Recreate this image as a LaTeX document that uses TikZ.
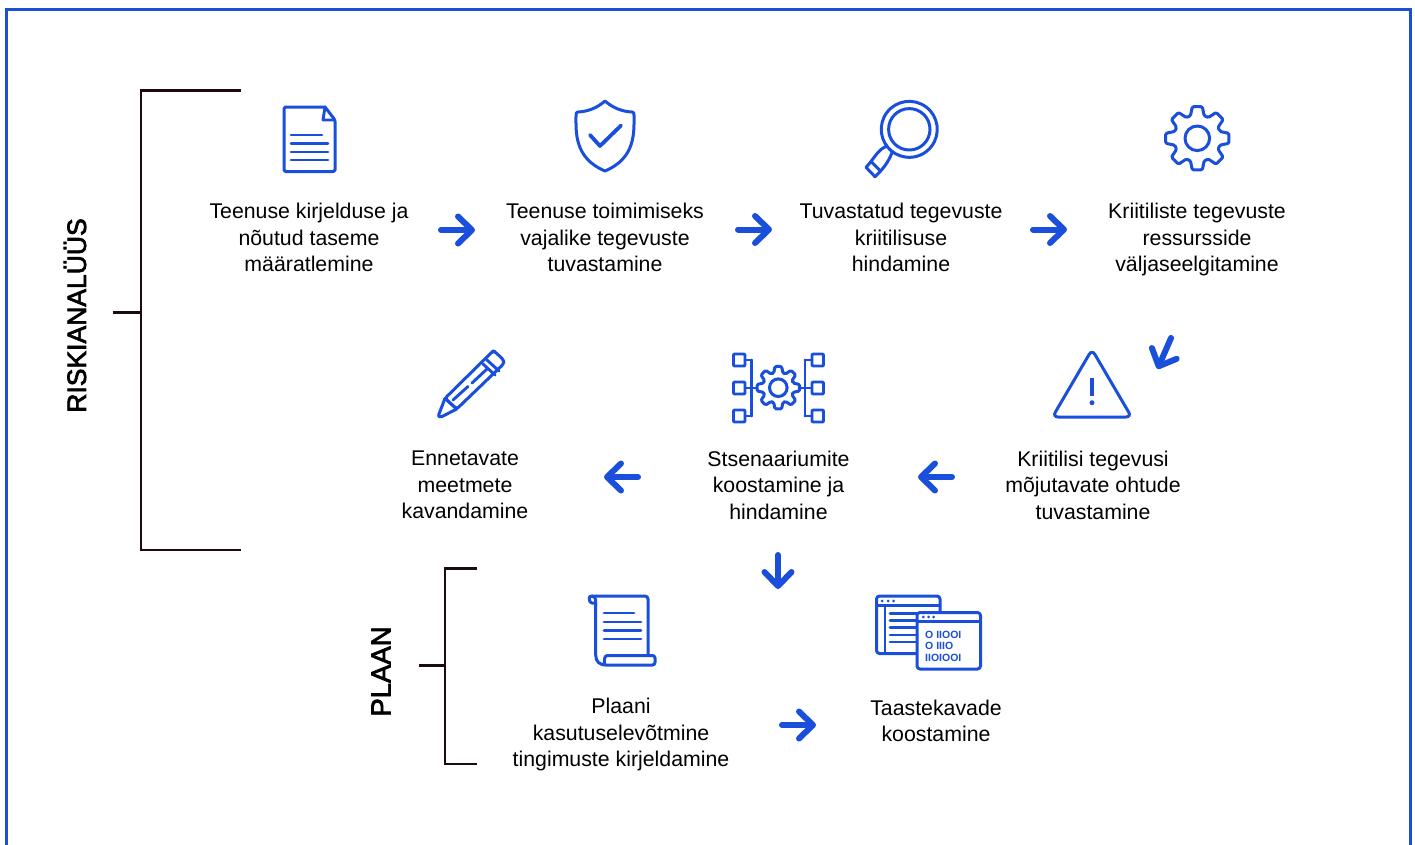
\documentclass[tikz,border=0pt]{standalone}
\usepackage{fontspec}
\setmainfont{Liberation Sans}
\newfontfamily\medfont[FakeBold=2.6]{Liberation Sans}
\usetikzlibrary{arrows.meta}
\definecolor{bluemain}{HTML}{1A4FDB}
\definecolor{brackdark}{HTML}{1C0A10}
\tikzset{
  lab/.style={align=center,inner sep=0pt,text=black,yshift=-4pt,font=\fontsize{21.3}{26.4}\selectfont,
    execute at begin node=\strut,execute at end node=\strut},
  sidelab/.style={rotate=90,inner sep=0pt,text=black},
  conn/.style={draw=bluemain,line width=6pt,line cap=round,-{Straight Barb[length=14pt,width=27pt,round]}},
  brack/.style={draw=brackdark,line width=2.6pt},
  icon/.style={draw=bluemain,line width=3pt,line cap=round,line join=round},
  thin/.style={draw=bluemain,line width=2.9pt,line cap=round,line join=round},
}
\newcommand{\geargl}[4]{% cx cy root outer
  \begin{scope}[shift={(#1,#2)}]
  \draw[icon,rounded corners=1.3pt] (-17:#3)
    \foreach \a in {0,45,...,315}{ -- ({\a-17}:#3) -- ({\a-9}:#4) -- ({\a+9}:#4) -- ({\a+17}:#3) } -- cycle;
  \end{scope}}
\begin{document}
\begin{tikzpicture}[x=1pt,y=-1pt]
\useasboundingbox (0,0) rectangle (1415,844);
\fill[white] (0,0) rectangle (1415,844);
% frame
\draw[draw=bluemain,line width=3pt] (6.5,860) -- (6.5,9.5) -- (1410,9.5) -- (1410,860);
% brackets
\draw[brack] (241,90.5) -- (141,90.5) -- (141,550) -- (241,550);
\draw[brack] (112.5,312.3) -- (141,312.3);
\draw[brack] (476.7,568.3) -- (445,568.3) -- (445,764) -- (476.7,764);
\draw[brack] (419.3,665.7) -- (445,665.7);
\node[sidelab,font=\fontsize{26.5}{30}\selectfont\medfont] (riski) at (75,315.5) {RISKIANALÜÜS};
\node[sidelab,font=\fontsize{27.5}{30}\selectfont\medfont] (plaan) at (381,671.5) {PLAAN};
% labels
\node[lab] (t1) at (309,237.5) {Teenuse kirjelduse ja\\nõutud taseme\\määratlemine};
\node[lab] (t2) at (605,237.5) {Teenuse toimimiseks\\vajalike tegevuste\\tuvastamine};
\node[lab] (t3) at (901,237.5) {Tuvastatud tegevuste\\kriitilisuse\\hindamine};
\node[lab] (t4) at (1197,237.5) {Kriitiliste tegevuste\\ressursside\\väljaseelgitamine};
\node[lab] (t5) at (1093,485) {Kriitilisi tegevusi\\mõjutavate ohtude\\tuvastamine};
\node[lab] (t6) at (778.5,485) {Stsenaariumite\\koostamine ja\\hindamine};
\node[lab] (t7) at (465,485) {Ennetavate\\meetmete\\kavandamine};
\node[lab] (t8) at (621,732.5) {Plaani\\kasutuselevõtmine\\tingimuste kirjeldamine};
\node[lab] (t9) at (936,721) {Taastekavade\\koostamine};
% connectors
\coordinate (a1s) at (441,230); \coordinate (a1e) at (475,230);
\coordinate (a2s) at (738,229.5); \coordinate (a2e) at (772,229.5);
\coordinate (a3s) at (1033,229.5); \coordinate (a3e) at (1067,229.5);
\coordinate (a4s) at (1171,338); \coordinate (a4e) at (1157.5,369);
\coordinate (a5s) at (952,477); \coordinate (a5e) at (918,477);
\coordinate (a6s) at (638,477); \coordinate (a6e) at (604,477);
\coordinate (a7s) at (778,555); \coordinate (a7e) at (778,589);
\coordinate (a8s) at (782,725); \coordinate (a8e) at (816,725);
\foreach \n in {1,...,8}{\draw[conn] (a\n s) -- (a\n e);}
% document icon
\draw[icon] (325,107) -- (285.5,107) [rounded corners=1.5pt] -- (284,107) -- (284,171.5) -- (335,171.5) -- (335,120) [sharp corners] -- (325,107) -- (323,107);
\draw[thin,line join=round] (325,107) -- (323,120) -- (335,120);
\foreach \yy/\xx in {135/322,143.5/328,152/328,160/328}{\draw[thin] (291,\yy) -- (\xx,\yy);}
% shield
\draw[icon] (605,101) .. controls (597,108) and (588,111.5) .. (578,112) .. controls (576.5,112.2) and (576,113) .. (576,115)
 .. controls (576,132) and (574,158) .. (605,171) .. controls (636,158) and (634,132) .. (634,115)
 .. controls (634,113) and (633.5,112.2) .. (632,112) .. controls (622,111.5) and (613,108) .. (605,101) -- cycle;
\draw[draw=bluemain,line width=3.8pt,line cap=round,line join=round] (590,135) -- (600,146) -- (621,125.5);
% magnifier
\draw[icon] (909.3,129.3) circle[radius=20.7];
\draw[icon] (892.4,151.7) arc[start angle=127,end angle=503,radius=28]
  .. controls (878,149) and (874,159) .. (866,167.3) -- (875,176.7) .. controls (883,169) and (888,163) .. (892.4,151.7);
\draw[icon] (871.5,162) -- (880.5,171);
% large gear
\geargl{1197.3}{138.3}{23.5}{32}
\draw[icon] (1197.3,138.3) circle[radius=12.3];
% triangle
\draw[icon,rounded corners=5.5pt] (1092,349.5) -- (1052.5,417) -- (1131.5,417) -- cycle;
\draw[draw=bluemain,line width=3.2pt] (1092,378) -- (1092,396);
\fill[bluemain] (1092,402.7) circle[radius=2.5];
% network with gear
\geargl{778.3}{387.7}{15.5}{21.5}
\draw[icon] (778.3,387.7) circle[radius=8.8];
\foreach \yy in {360,388,416}{
  \draw[thin,rounded corners=1pt] (733.5,\yy-6) rectangle (745,\yy+6);
  \draw[thin,rounded corners=1pt] (812,\yy-6) rectangle (823.5,\yy+6);
  \draw[thin] (745,\yy) -- (751.7,\yy);
  \draw[thin] (805,\yy) -- (812,\yy);
}
\draw[thin] (751.7,360) -- (751.7,416);
\draw[thin] (805,360) -- (805,416);
\draw[thin] (751.7,388) -- (757,388);
\draw[thin] (799,388) -- (805,388);
% pencil
\draw[icon] (445,398.3) -- (439,414) .. controls (438,417) and (439.5,417.5) .. (442,416.5) -- (456.7,409);
\draw[icon,rounded corners=2.5pt] (445,398.3) -- (493,351) -- (495,351.7) -- (504,360.5) -- (503.5,364) -- (456.7,409) -- cycle;
\draw[thin] (445,398.3) -- (456.7,409);
\draw[thin] (483,364) -- (495,375);
\draw[thin] (487,360) -- (499,371);
\draw[thin] (453,400) -- (468,386.5);
\draw[thin] (472,383) -- (487,369);
% scroll
\draw[icon,rounded corners=3pt] (592,596) -- (648,596) -- (648,655);
\draw[icon] (591,596) .. controls (588,596) and (589,603) .. (592,603) -- (595.7,603);
\draw[icon,rounded corners=4pt] (591,596) -- (595.7,596) -- (595.7,606);
\draw[icon] (595.7,603) -- (595.7,655) .. controls (595.7,662) and (600,665) .. (606,665);
\draw[icon,rounded corners=2.5pt] (606,665) -- (655,665) -- (655,655.5) -- (605,655.5) -- (604,665);
\foreach \yy/\xx in {613/634,622/641,630.5/641,639/641}{\draw[thin] (604,\yy) -- (\xx,\yy);}
% windows
\draw[icon,rounded corners=3pt] (917,653.5) -- (876.5,653.5) -- (876.5,596) -- (940,596) -- (940,612);
\draw[thin] (876.5,605.7) -- (940,605.7);
\draw[thin] (885,605.7) -- (885,653.5);
\foreach \yy in {613.3,620.7,627.7,635,642}{\draw[thin] (890,\yy) -- (917,\yy);}
\foreach \xx in {882,888,893.5}{\fill[bluemain] (\xx,601) circle[radius=1.5];}
\draw[icon,rounded corners=3pt,fill=white] (917,612.5) rectangle (980.5,669);
\draw[thin] (917,621.3) -- (980.5,621.3);
\foreach \xx in {923.3,928.5,933.5}{\fill[bluemain] (\xx,617) circle[radius=1.5];}
\node[anchor=west,inner sep=0pt,text=bluemain,font=\fontsize{10.5}{11}\selectfont\bfseries] (b1) at (925,634.5) {O IIOOI};
\node[anchor=west,inner sep=0pt,text=bluemain,font=\fontsize{10.5}{11}\selectfont\bfseries] (b2) at (925,646) {O IIIO};
\node[anchor=west,inner sep=0pt,text=bluemain,font=\fontsize{10.5}{11}\selectfont\bfseries] (b3) at (925,657.8) {IIOIOOI};
\end{tikzpicture}
\end{document}
